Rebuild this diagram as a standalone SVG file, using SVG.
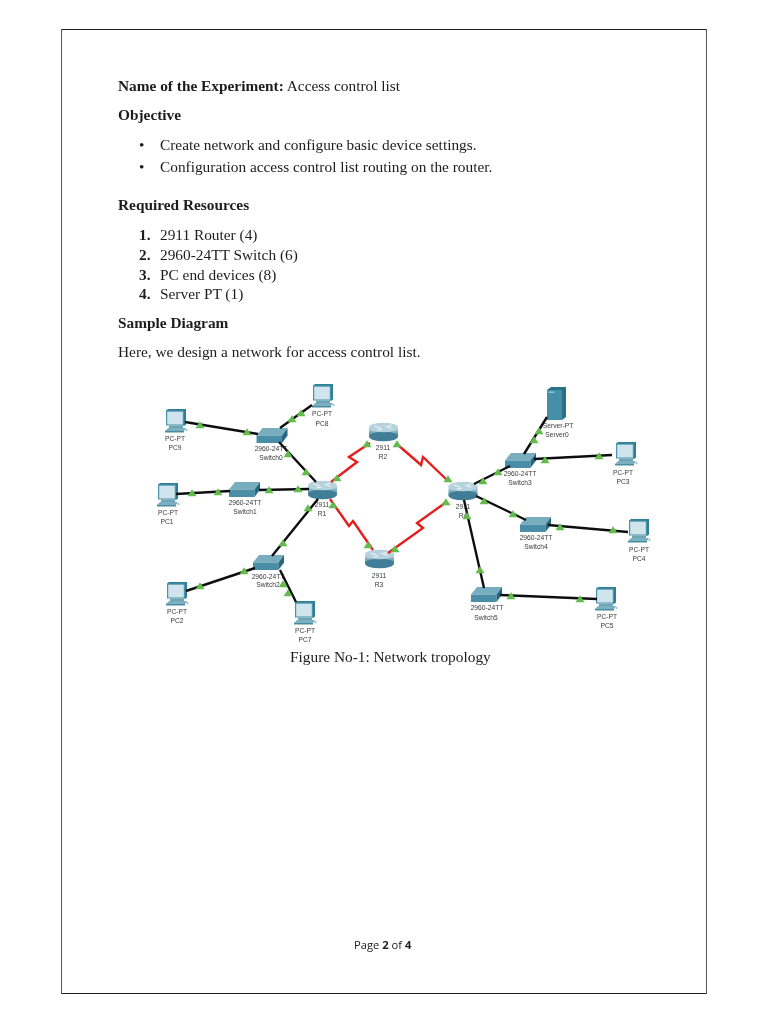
<svg xmlns="http://www.w3.org/2000/svg" width="768" height="1024" viewBox="0 0 768 1024">
<style>
.d{font-family:"Liberation Serif","Times New Roman",serif;font-size:15.35px;fill:#1c1c1c}
.b{font-weight:bold}
.l{font-family:"Liberation Sans",Arial,sans-serif;font-size:6.7px;fill:#3a3a3a;text-anchor:middle}
.k{fill:none;stroke:#111;stroke-width:2.4}
.r{fill:none;stroke:#e41f1f;stroke-width:2.4}
.t{fill:#63bb4b}
</style>
<defs>
<filter id="soft" x="-5%" y="-5%" width="110%" height="110%"><feGaussianBlur stdDeviation="0.4"/></filter>
<filter id="soft2" x="-5%" y="-5%" width="110%" height="110%"><feGaussianBlur stdDeviation="0.25"/></filter>
<linearGradient id="rg" x1="0" y1="0" x2="0" y2="1"><stop offset="0" stop-color="#cfe2ea"/><stop offset="0.5" stop-color="#86b3c4"/><stop offset="1" stop-color="#3f7d96"/></linearGradient>
<polygon id="tr" class="t" points="-4.500,3.300 4.500,3.300 0,-3.700"/>
<g id="pc">
<polygon points="-9,-11.500 -7,-13 11,-13 11,2.500 9,4" fill="#2f7f96"/>
<rect x="-9" y="-11.500" width="18" height="15" fill="#4b93a8"/>
<rect x="-7.800" y="-10.300" width="15.600" height="12.800" fill="#cfe4ec"/>
<rect x="-6" y="3.500" width="14" height="2.500" fill="#6da5b7"/>
<polygon points="-10,9 -7,6 11,6 9,9" fill="#7cb0c1"/>
<rect x="-10" y="9" width="19" height="1.500" fill="#4a8ba0"/>
<circle cx="11.500" cy="8" r="1.200" fill="#aec5ce"/>
</g>
<g id="sw">
<polygon points="-15.500,0 -9.500,-7.500 15.500,-7.500 10,0" fill="#78adbe"/>
<polygon points="-15.500,0 10,0 10,7.500 -15.500,7.500" fill="#4a8ea6"/>
<polygon points="10,0 15.500,-7.500 15.500,0 10,7.500" fill="#236880"/>
</g>
<g id="rt">
<rect x="-14.500" y="-5" width="29" height="9.500" fill="url(#rg)"/>
<ellipse cx="0" cy="4.500" rx="14.500" ry="4.800" fill="#3f7d96"/>
<ellipse cx="0" cy="-4.500" rx="14.500" ry="4.800" fill="#b6d2dd"/>
<path d="M-9,-6 L-3,-4 M2,-6 L8,-3.500 M-1,-3 L-6,-2 M8,-7 L4,-5.500" stroke="#f4f8fa" stroke-width="1" fill="none"/>
</g>
</defs>
<rect width="768" height="1024" fill="#fff"/>
<g id="page-border" fill="none">
<path d="M61,29.500H706M61,993.500H706" stroke="#1e1e1e" stroke-width="1"/>
<path d="M61.500,29V994M706.500,29V994" stroke="#555" stroke-width="1"/>
</g>

<g id="document-text" filter="url(#soft2)">
<text class="d" x="118" y="91"><tspan class="b">Name of the Experiment:</tspan> Access control list</text>
<text class="d b" x="118" y="120">Objective</text>
<text class="d" x="139" y="150">•</text>
<text class="d" x="160" y="150">Create network and configure basic device settings.</text>
<text class="d" x="139" y="172">•</text>
<text class="d" x="160" y="172">Configuration access control list routing on the router.</text>
<text class="d b" x="118" y="210">Required Resources</text>
<text class="d b" x="139" y="240">1.</text><text class="d" x="160" y="240">2911 Router (4)</text>
<text class="d b" x="139" y="260">2.</text><text class="d" x="160" y="260">2960-24TT Switch (6)</text>
<text class="d b" x="139" y="280">3.</text><text class="d" x="160" y="280">PC end devices (8)</text>
<text class="d b" x="139" y="299">4.</text><text class="d" x="160" y="299">Server PT (1)</text>
<text class="d b" x="118" y="328">Sample Diagram</text>
<text class="d" x="118" y="357">Here, we design a network for access control list.</text>
<text class="d" x="290" y="662">Figure No-1: Network tropology</text>
<text x="354" y="949" font-family="'Open Sans','Liberation Sans',sans-serif" font-size="11.200" fill="#222">Page <tspan font-weight="bold">2</tspan> of <tspan font-weight="bold">4</tspan></text>
</g>

<g filter="url(#soft)">
<g id="PC9"><use href="#pc" x="175" y="422"/><text class="l" x="175" y="441">PC-PT</text><text class="l" x="175" y="450">PC9</text></g>
<g id="PC8"><use href="#pc" x="322" y="397"/><text class="l" x="322" y="416">PC-PT</text><text class="l" x="322" y="426">PC8</text></g>
<g id="PC1"><use href="#pc" x="167" y="496"/><text class="l" x="168" y="515">PC-PT</text><text class="l" x="167" y="524">PC1</text></g>
<g id="PC2"><use href="#pc" x="176" y="595"/><text class="l" x="177" y="614">PC-PT</text><text class="l" x="177" y="623">PC2</text></g>
<g id="PC7"><use href="#pc" x="304" y="614"/><text class="l" x="305" y="633">PC-PT</text><text class="l" x="305" y="642">PC7</text></g>
<g id="PC3"><use href="#pc" x="625" y="455"/><text class="l" x="623" y="475">PC-PT</text><text class="l" x="623" y="484">PC3</text></g>
<g id="PC4"><use href="#pc" x="638" y="532"/><text class="l" x="639" y="552">PC-PT</text><text class="l" x="639" y="561">PC4</text></g>
<g id="PC5"><use href="#pc" x="605" y="600"/><text class="l" x="607" y="619">PC-PT</text><text class="l" x="607" y="628">PC5</text></g>
<g id="Server0">
<polygon points="547,390 551,387 566,387 566,417 562,420" fill="#2a6f86"/>
<rect x="547" y="390" width="15" height="30" fill="#4490a8"/>
<rect x="548.500" y="391.500" width="6" height="1.500" fill="#8cc0d0"/>
<text class="l" x="558" y="428">Server-PT</text><text class="l" x="557" y="437">Server0</text></g>
<g id="Switch0"><use href="#sw" x="272" y="435.500"/><text class="l" x="271" y="451">2960-24TT</text><text class="l" x="271" y="460">Switch0</text></g>
<g id="Switch1"><use href="#sw" x="244.500" y="489.500"/><text class="l" x="245" y="505">2960-24TT</text><text class="l" x="245" y="514">Switch1</text></g>
<g id="Switch2"><use href="#sw" x="268.500" y="562.500"/><text class="l" x="268" y="579">2960-24TT</text><text class="l" x="268" y="587">Switch2</text></g>
<g id="Switch3"><use href="#sw" x="520.500" y="460.500"/><text class="l" x="520" y="476">2960-24TT</text><text class="l" x="520" y="485">Switch3</text></g>
<g id="Switch4"><use href="#sw" x="535.500" y="524.500"/><text class="l" x="536" y="540">2960-24TT</text><text class="l" x="536" y="549">Switch4</text></g>
<g id="Switch5"><use href="#sw" x="486.500" y="594.500"/><text class="l" x="487" y="610">2960-24TT</text><text class="l" x="486" y="620">Switch5</text></g>
<g id="R1"><use href="#rt" x="322.500" y="490"/><text class="l" x="322" y="507">2911</text><text class="l" x="322" y="516">R1</text></g>
<g id="R2"><use href="#rt" x="383.500" y="432"/><text class="l" x="383" y="450">2911</text><text class="l" x="383" y="459">R2</text></g>
<g id="R3"><use href="#rt" x="379.500" y="559"/><text class="l" x="379" y="578">2911</text><text class="l" x="379" y="587">R3</text></g>
<g id="R4"><use href="#rt" x="463" y="491"/><text class="l" x="463" y="509">2911</text><text class="l" x="463" y="518">R4</text></g>
<g id="connectors">
<path class="k" d="M185,422L258,434M312,405L280,428M279,442L316,482M176,494L230,491M259,490L309,489M318,499L272,556M255,568L186,591M280,570L296,602M474,484L510,466M524,454L547,417M534,459L612,455M476,496L526,520M548,525L628,532M464,500L484,588M500,595L597,599"/>
<path class="r" d="M331,482L357,462L349,457L370,443M330,499L349,526L353,521L373,550M398,445L421,465L423,457L448,481M388,553L423,528L417,523L445,503"/>
<g id="link-lights">
<use href="#tr" x="200" y="425"/><use href="#tr" x="247" y="432"/><use href="#tr" x="292" y="419"/><use href="#tr" x="301" y="413"/><use href="#tr" x="288" y="454"/><use href="#tr" x="306" y="472"/><use href="#tr" x="337" y="478"/><use href="#tr" x="367" y="444"/><use href="#tr" x="192" y="493"/><use href="#tr" x="218" y="492"/><use href="#tr" x="269" y="490"/><use href="#tr" x="298" y="489"/><use href="#tr" x="308" y="508"/><use href="#tr" x="333" y="505"/><use href="#tr" x="368" y="545"/><use href="#tr" x="283" y="543"/><use href="#tr" x="244" y="571"/><use href="#tr" x="200" y="586"/><use href="#tr" x="283" y="584"/><use href="#tr" x="288" y="593"/><use href="#tr" x="397" y="444"/><use href="#tr" x="448" y="479"/><use href="#tr" x="446" y="502"/><use href="#tr" x="483" y="481"/><use href="#tr" x="498" y="472"/><use href="#tr" x="534" y="440"/><use href="#tr" x="539" y="431"/><use href="#tr" x="545" y="460"/><use href="#tr" x="599" y="456"/><use href="#tr" x="484" y="501"/><use href="#tr" x="513" y="514"/><use href="#tr" x="467" y="516"/><use href="#tr" x="480" y="570"/><use href="#tr" x="560" y="527"/><use href="#tr" x="613" y="530"/><use href="#tr" x="511" y="596"/><use href="#tr" x="580" y="599"/><use href="#tr" x="395" y="549"/>
</g>
</g>
</g>
</svg>
